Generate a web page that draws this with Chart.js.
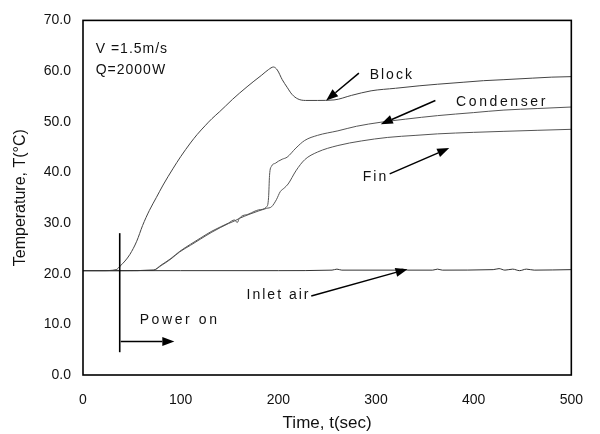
<!DOCTYPE html>
<html>
<head>
<meta charset="utf-8">
<script src="https://cdn.jsdelivr.net/npm/chart.js@4.4.1/dist/chart.umd.min.js"></script>
<style>
  html, body { margin: 0; padding: 0; background: #fff; }
  #wrap { width: 600px; height: 434px; }
</style>
</head>
<body>
<div id="wrap"><canvas id="tempChart" width="600" height="434"></canvas></div>
<script>
  // values
  const xTicks = [0, 100, 200, 300, 400, 500];
  const yTicks = [0, 10, 20, 30, 40, 50, 60, 70];

  const blockTime = [0, 20, 34, 38, 43, 48, 55, 61, 68, 75, 82, 92, 100, 110, 117, 125, 132, 140, 146, 153, 160, 168, 175, 183, 190, 195, 199, 204, 209, 214, 220, 228, 240, 257, 275, 295, 320, 345, 363, 390, 410, 431, 460, 480, 500];
  const blockTemp = [20.6, 20.6, 20.8, 21.5, 22.5, 23.8, 26.4, 29.5, 32.5, 35, 37.5, 40.7, 43.1, 45.8, 47.5, 49.2, 50.6, 52, 53.1, 54.4, 55.6, 56.9, 58, 59.2, 60.3, 60.8, 60.2, 58.3, 56.8, 55.4, 54.5, 54.2, 54.2, 54.3, 55.2, 56.1, 56.6, 57.1, 57.4, 57.8, 58.1, 58.3, 58.6, 58.8, 58.9];

  const condTime = [0, 40, 72, 80, 90, 99, 110, 120, 132, 149, 155, 158, 160, 170, 180, 188, 190, 191, 193, 197, 200, 204, 209, 218, 227, 240, 261, 280, 305, 330, 363, 400, 431, 465, 500];
  const condTemp = [20.6, 20.6, 20.7, 21.7, 23, 24.4, 25.8, 27, 28.4, 30, 30.6, 30.1, 30.9, 31.8, 32.6, 33.2, 35, 39.4, 41.2, 41.8, 42.2, 42.6, 43, 44.8, 46.3, 47.3, 48.2, 49.1, 49.9, 50.5, 51.2, 51.8, 52.3, 52.6, 52.9];

  const finTime = [0, 40, 72, 80, 90, 99, 110, 120, 132, 149, 155, 160, 170, 180, 188, 193, 198, 202, 206, 210, 218, 227, 240, 261, 285, 312, 340, 363, 400, 431, 465, 500];
  const finTemp = [20.6, 20.6, 20.7, 21.6, 22.9, 24.3, 25.6, 26.8, 28.2, 29.9, 30.4, 30.9, 31.7, 32.4, 32.9, 33.2, 34.6, 36.2, 36.9, 37.7, 40.3, 42.5, 44, 45.3, 46.2, 46.9, 47.3, 47.6, 47.9, 48.1, 48.3, 48.5];

  const airTime = [0, 100, 200, 255, 260, 265, 300, 322, 327, 332, 358, 363, 368, 420, 426, 432, 440, 447, 454, 462, 500];
  const airTemp = [20.6, 20.6, 20.6, 20.7, 20.9, 20.7, 20.7, 20.7, 20.9, 20.7, 20.7, 20.9, 20.7, 20.8, 21.0, 20.7, 20.9, 20.6, 20.9, 20.7, 20.8];

  const toPoints = (xs, ys) => xs.map((x, i) => ({ x, y: ys[i] }));

  // labels and arrows, in data units
  const notes = [
    { text: 'V =1.5m/s', x: 13, y: 64.3, spacing: '1px' },
    { text: 'Q=2000W', x: 13, y: 60.2, spacing: '1px' },
    { text: 'Block', x: 293.5, y: 59.2, spacing: '2px' },
    { text: 'Condenser', x: 382, y: 53.8, spacing: '2.6px' },
    { text: 'Fin', x: 286.5, y: 39.1, spacing: '2px' },
    { text: 'Inlet air', x: 167.5, y: 15.8, spacing: '2px' },
    { text: 'Power on', x: 58, y: 10.8, spacing: '2.6px' }
  ];
  const arrows = [
    { from: [282.5, 59.6], to: [249, 54.2] },
    { from: [360.8, 54.2], to: [304.9, 49.5] },
    { from: [314, 39.7], to: [375, 44.8] },
    { from: [233.7, 15.6], to: [332.3, 20.9] },
    { from: [38.6, 6.6], to: [93.5, 6.6] }
  ];

  const notesPlugin = {
    id: 'notes',
    afterDatasetsDraw(chart) {
      const { ctx, chartArea, scales: { x, y } } = chart;
      ctx.save();
      // frame
      ctx.strokeStyle = '#000';
      ctx.lineWidth = 1.6;
      ctx.strokeRect(chartArea.left, chartArea.top, chartArea.right - chartArea.left, chartArea.bottom - chartArea.top);

      // power-on marker
      ctx.lineWidth = 1.6;
      ctx.beginPath();
      ctx.moveTo(x.getPixelForValue(37.6), y.getPixelForValue(28));
      ctx.lineTo(x.getPixelForValue(37.6), y.getPixelForValue(4.5));
      ctx.stroke();

      ctx.fillStyle = '#111';
      ctx.font = '14px "Liberation Sans", Arial, sans-serif';
      ctx.textBaseline = 'middle';
      notes.forEach(n => {
        ctx.letterSpacing = n.spacing || '0px';
        ctx.fillText(n.text, x.getPixelForValue(n.x), y.getPixelForValue(n.y));
      });
      ctx.letterSpacing = '0px';

      ctx.strokeStyle = '#000';
      ctx.fillStyle = '#000';
      ctx.lineWidth = 1.5;
      arrows.forEach(a => {
        const x1 = x.getPixelForValue(a.from[0]), y1 = y.getPixelForValue(a.from[1]);
        const x2 = x.getPixelForValue(a.to[0]), y2 = y.getPixelForValue(a.to[1]);
        const ang = Math.atan2(y2 - y1, x2 - x1);
        const len = 12, half = 4.5;
        ctx.beginPath();
        ctx.moveTo(x1, y1);
        ctx.lineTo(x2 - len * Math.cos(ang), y2 - len * Math.sin(ang));
        ctx.stroke();
        ctx.beginPath();
        ctx.moveTo(x2, y2);
        ctx.lineTo(x2 - len * Math.cos(ang) + half * Math.sin(ang), y2 - len * Math.sin(ang) - half * Math.cos(ang));
        ctx.lineTo(x2 - len * Math.cos(ang) - half * Math.sin(ang), y2 - len * Math.sin(ang) + half * Math.cos(ang));
        ctx.closePath();
        ctx.fill();
      });
      ctx.restore();
    }
  };

  const lineStyle = {
    borderWidth: 1,
    pointRadius: 0,
    fill: false,
    cubicInterpolationMode: 'monotone'
  };

  const fontFamily = '"Liberation Sans", Arial, sans-serif';

  new Chart(document.getElementById('tempChart'), {
    type: 'line',
    data: {
      datasets: [
        { label: 'Inlet air', data: toPoints(airTime, airTemp), borderColor: '#333', ...lineStyle },
        { label: 'Fin', data: toPoints(finTime, finTemp), borderColor: '#555', ...lineStyle },
        { label: 'Condenser', data: toPoints(condTime, condTemp), borderColor: '#555', ...lineStyle },
        { label: 'Block', data: toPoints(blockTime, blockTemp), borderColor: '#444', ...lineStyle }
      ]
    },
    options: {
      responsive: false,
      animation: false,
      events: [],
      layout: { autoPadding: false, padding: { top: 17, right: 25, left: 0, bottom: 0 } },
      plugins: { legend: { display: false }, tooltip: { enabled: false } },
      scales: {
        x: {
          type: 'linear',
          min: 0, max: 500,
          afterBuildTicks: s => { s.ticks = xTicks.map(v => ({ value: v })); },
          afterFit: s => { s.height = 59; },
          grid: { display: false, drawTicks: false },
          border: { display: false },
          ticks: { color: '#111', padding: 17, font: { family: fontFamily, size: 14 } },
          title: { display: true, text: 'Time, t(sec)', color: '#111', padding: { top: 4, bottom: 0 }, font: { family: fontFamily, size: 17 } }
        },
        y: {
          min: 0, max: 70,
          afterBuildTicks: s => { s.ticks = yTicks.map(v => ({ value: v })); },
          afterFit: s => { s.width = 83; },
          grid: { display: false, drawTicks: false },
          border: { display: false },
          ticks: { color: '#111', padding: 12, callback: v => v.toFixed(1), font: { family: fontFamily, size: 14 } },
          title: { display: true, text: 'Temperature, T(°C)', color: '#111', padding: { top: 11, bottom: 0 }, font: { family: fontFamily, size: 16 } }
        }
      }
    },
    plugins: [notesPlugin]
  });
</script>
</body>
</html>
